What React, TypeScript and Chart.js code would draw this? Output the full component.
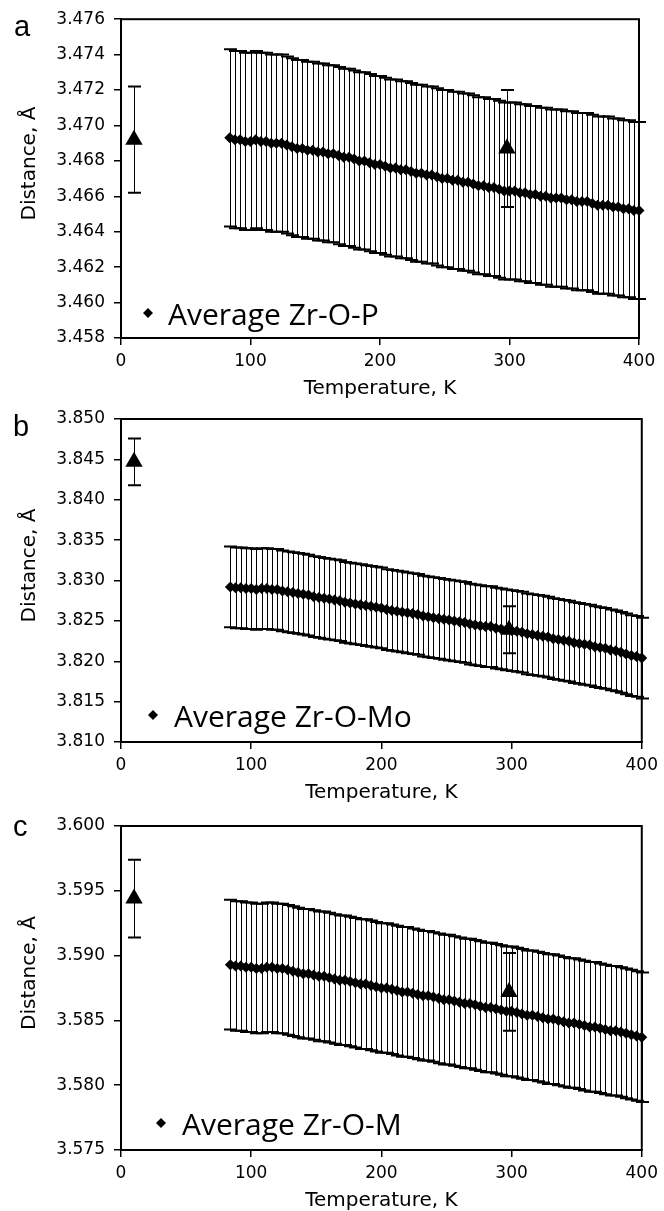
import React, { useEffect, useRef } from 'react';
import { Chart, registerables } from 'chart.js';

Chart.register(...registerables);

// Temperature grid of the simulated averages (K)
const temperatures = [
  84, 88, 92, 96, 100, 104, 108, 112, 116, 120,
  124, 128, 132, 136, 140, 144, 148, 152, 156, 160,
  164, 168, 172, 176, 180, 184, 188, 192, 196, 200,
  204, 208, 212, 216, 220, 224, 228, 232, 236, 240,
  244, 248, 252, 256, 260, 264, 268, 272, 276, 280,
  284, 288, 292, 296, 300, 304, 308, 312, 316, 320,
  324, 328, 332, 336, 340, 344, 348, 352, 356, 360,
  364, 368, 372, 376, 380, 384, 388, 392, 396, 400,
];

// Panel a: Average Zr-O-P (Å)
const avgZrOP = [
  3.4693, 3.4692, 3.4692, 3.4691, 3.4691, 3.4692, 3.4691, 3.4691, 3.4690, 3.4690,
  3.4690, 3.4689, 3.4688, 3.4687, 3.4687, 3.4686, 3.4686, 3.4685, 3.4685, 3.4684,
  3.4684, 3.4683, 3.4682, 3.4682, 3.4681, 3.4680, 3.4680, 3.4679, 3.4678, 3.4678,
  3.4677, 3.4676, 3.4676, 3.4675, 3.4675, 3.4674, 3.4673, 3.4673, 3.4672, 3.4672,
  3.4671, 3.4670, 3.4670, 3.4669, 3.4669, 3.4668, 3.4668, 3.4667, 3.4666, 3.4666,
  3.4665, 3.4665, 3.4664, 3.4663, 3.4663, 3.4663, 3.4662, 3.4662, 3.4661, 3.4661,
  3.4660, 3.4660, 3.4659, 3.4659, 3.4659, 3.4658, 3.4658, 3.4657, 3.4657, 3.4657,
  3.4656, 3.4655, 3.4655, 3.4655, 3.4654, 3.4654, 3.4653, 3.4653, 3.4652, 3.4652,
];
const avgZrOPError = 0.005;

// Panel b: Average Zr-O-Mo (Å)
const avgZrOMo = [
  3.8292, 3.8291, 3.8291, 3.8290, 3.8290, 3.8289, 3.8290, 3.8290, 3.8289, 3.8289,
  3.8287, 3.8286, 3.8285, 3.8284, 3.8283, 3.8282, 3.8280, 3.8279, 3.8278, 3.8277,
  3.8276, 3.8275, 3.8273, 3.8272, 3.8271, 3.8270, 3.8269, 3.8268, 3.8267, 3.8266,
  3.8264, 3.8263, 3.8262, 3.8261, 3.8260, 3.8259, 3.8258, 3.8256, 3.8255, 3.8254,
  3.8253, 3.8252, 3.8251, 3.8250, 3.8249, 3.8248, 3.8246, 3.8245, 3.8244, 3.8243,
  3.8243, 3.8241, 3.8240, 3.8239, 3.8238, 3.8237, 3.8236, 3.8234, 3.8233, 3.8232,
  3.8231, 3.8230, 3.8228, 3.8227, 3.8226, 3.8225, 3.8223, 3.8222, 3.8221, 3.8220,
  3.8218, 3.8217, 3.8216, 3.8214, 3.8213, 3.8211, 3.8209, 3.8207, 3.8206, 3.8204,
];
const avgZrOMoError = 0.005;

// Panel c: Average Zr-O-M (Å)
const avgZrOM = [
  3.5893, 3.5892, 3.5892, 3.5891, 3.5891, 3.5890, 3.5890, 3.5891, 3.5891, 3.5890,
  3.5890, 3.5889, 3.5888, 3.5887, 3.5886, 3.5886, 3.5885, 3.5884, 3.5884, 3.5883,
  3.5882, 3.5881, 3.5881, 3.5880, 3.5879, 3.5878, 3.5878, 3.5877, 3.5876, 3.5875,
  3.5875, 3.5874, 3.5873, 3.5872, 3.5872, 3.5871, 3.5870, 3.5869, 3.5869, 3.5868,
  3.5867, 3.5866, 3.5866, 3.5865, 3.5864, 3.5863, 3.5863, 3.5862, 3.5861, 3.5860,
  3.5860, 3.5859, 3.5858, 3.5857, 3.5857, 3.5856, 3.5855, 3.5854, 3.5854, 3.5853,
  3.5852, 3.5851, 3.5851, 3.5850, 3.5849, 3.5848, 3.5848, 3.5847, 3.5846, 3.5845,
  3.5845, 3.5844, 3.5843, 3.5842, 3.5842, 3.5841, 3.5840, 3.5839, 3.5838, 3.5837,
];
const avgZrOMError = 0.005;

// Experimental points (triangles)
const expTemperatures = [10, 298];
const expZrOP = [3.4692, 3.4687];
const expZrOPError = [0.003, 0.0033];
const expZrOMo = [3.8447, 3.8239];
const expZrOMoError = [0.0029, 0.0029];
const expZrOM = [3.5944, 3.5872];
const expZrOMError = [0.003, 0.003];

// Axes
const xMin = 0;
const xMax = 400;
const xStep = 100;
const yRangeA = [3.458, 3.476, 0.002];
const yRangeB = [3.81, 3.85, 0.005];
const yRangeC = [3.575, 3.6, 0.005];

const xTitle = 'Temperature, K';
const yTitle = 'Distance, Å';

const TICK_FONT = "'DejaVu Sans', Verdana, sans-serif";

type PanelDef = {
  letter: string;
  top: number;
  height: number;
  padTop: number;
  padRight: number;
  yRange: number[];
  avg: number[];
  avgErr: number | number[];
  exp: number[];
  expErr: number[];
  legend: string;
  legendDx: number;
  legendDy: number;
  markDx: number;
  markDy: number;
  letterX: number;
  letterY: number;
};

const panels: PanelDef[] = [
  {
    letter: 'a', top: 0, height: 399, padTop: 19, padRight: 25, yRange: yRangeA,
    avg: avgZrOP, avgErr: avgZrOPError, exp: expZrOP, expErr: expZrOPError,
    legend: 'Average Zr-O-P', legendDx: 47, legendDy: 13, markDx: 27, markDy: 25,
    letterX: 14, letterY: 36,
  },
  {
    letter: 'b', top: 399, height: 404, padTop: 20, padRight: 20, yRange: yRangeB,
    avg: avgZrOMo, avgErr: avgZrOMoError, exp: expZrOMo, expErr: expZrOMoError,
    legend: 'Average Zr-O-Mo', legendDx: 53, legendDy: 15, markDx: 32, markDy: 27,
    letterX: 13, letterY: 37,
  },
  {
    letter: 'c', top: 803, height: 408, padTop: 23, padRight: 20, yRange: yRangeC,
    avg: avgZrOM, avgErr: avgZrOMError, exp: expZrOM, expErr: expZrOMError,
    legend: 'Average Zr-O-M', legendDx: 61, legendDy: 15, markDx: 40, markDy: 27,
    letterX: 13, letterY: 33,
  },
];

function makeDecoPlugin(p: PanelDef) {
  return {
    id: 'deco_' + p.letter,
    beforeDatasetsDraw(chart: any) {
      const ctx = chart.ctx;
      const ys = chart.scales.y;
      ctx.save();
      ctx.strokeStyle = '#000';
      chart.data.datasets.forEach((ds: any, di: number) => {
        const meta = chart.getDatasetMeta(di);
        meta.data.forEach((pt: any, i: number) => {
          const v = ds.data[i].y;
          const e = Array.isArray(ds.errors) ? ds.errors[i] : ds.errors;
          const x = Math.round(pt.x) + 0.5;
          const y1 = ys.getPixelForValue(v + e);
          const y2 = ys.getPixelForValue(v - e);
          ctx.lineWidth = 1;
          ctx.beginPath();
          ctx.moveTo(x, y1);
          ctx.lineTo(x, y2);
          ctx.stroke();
          ctx.lineWidth = 2;
          ctx.beginPath();
          ctx.moveTo(x - 6.5, y1);
          ctx.lineTo(x + 6.5, y1);
          ctx.moveTo(x - 6.5, y2);
          ctx.lineTo(x + 6.5, y2);
          ctx.stroke();
        });
      });
      ctx.restore();
    },
    afterDraw(chart: any) {
      const ctx = chart.ctx;
      const a = chart.chartArea;
      ctx.save();
      // frame
      ctx.strokeStyle = '#000';
      ctx.lineWidth = 2;
      ctx.strokeRect(a.left, a.top, a.right - a.left, a.bottom - a.top);
      // y-axis title (placed slightly above the plot centre, as in the original)
      ctx.fillStyle = '#000';
      ctx.save();
      ctx.translate(35, (a.top + a.bottom) / 2 - 15);
      ctx.rotate(-Math.PI / 2);
      ctx.font = "20px 'DejaVu Sans', Verdana, sans-serif";
      ctx.textAlign = 'center';
      ctx.textBaseline = 'alphabetic';
      ctx.fillText(yTitle, 0, 0);
      ctx.restore();
      // legend
      const mx = a.left + p.markDx;
      const my = a.bottom - p.markDy;
      ctx.beginPath();
      ctx.moveTo(mx - 5, my);
      ctx.lineTo(mx, my - 5);
      ctx.lineTo(mx + 5, my);
      ctx.lineTo(mx, my + 5);
      ctx.closePath();
      ctx.fill();
      ctx.font = "30px 'Open Sans', sans-serif";
      ctx.textAlign = 'left';
      ctx.textBaseline = 'alphabetic';
      ctx.fillText(p.legend, a.left + p.legendDx, a.bottom - p.legendDy);
      // panel letter
      ctx.font = "29px 'Liberation Sans', Arial, sans-serif";
      ctx.fillText(p.letter, p.letterX, p.letterY);
      ctx.restore();
    },
  };
}

function Panel({ p }: { p: PanelDef }) {
  const ref = useRef<HTMLCanvasElement | null>(null);
  useEffect(() => {
    if (!ref.current) return;
    const [yMin, yMax, yStep] = p.yRange;
    const chart = new Chart(ref.current, {
      type: 'scatter',
      data: {
        datasets: [
          {
            label: p.legend,
            data: temperatures.map((t, i) => ({ x: t, y: p.avg[i] })),
            pointStyle: 'rectRot',
            pointRadius: 5.5,
            pointHoverRadius: 5.5,
            backgroundColor: '#000',
            borderColor: '#000',
            borderWidth: 0,
            showLine: false,
            clip: false,
            errors: p.avgErr,
          } as any,
          {
            label: 'Experiment',
            data: expTemperatures.map((t, i) => ({ x: t, y: p.exp[i] })),
            pointStyle: 'triangle',
            pointRadius: 10,
            pointHoverRadius: 10,
            backgroundColor: '#000',
            borderColor: '#000',
            borderWidth: 0,
            showLine: false,
            clip: false,
            errors: p.expErr,
          } as any,
        ],
      },
      options: {
        animation: false,
        responsive: false,
        events: [],
        layout: { padding: { top: p.padTop, right: p.padRight, bottom: 0, left: 0 } },
        plugins: { legend: { display: false }, tooltip: { enabled: false } },
        scales: {
          x: {
            type: 'linear',
            min: xMin,
            max: xMax,
            ticks: {
              stepSize: xStep,
              color: '#000',
              padding: 6,
              maxRotation: 0,
              font: { family: TICK_FONT, size: 17 },
            },
            grid: { drawOnChartArea: false, drawTicks: true, tickLength: 7, color: '#000', lineWidth: 1.5 },
            border: { display: true, color: '#000', width: 2 },
            title: {
              display: true,
              text: xTitle,
              color: '#000',
              font: { family: TICK_FONT, size: 20, lineHeight: 1 },
              padding: { top: 0, bottom: 0.5 },
            },
            afterFit: (s: any) => { s.height = 61; },
          },
          y: {
            type: 'linear',
            min: yMin,
            max: yMax,
            ticks: {
              stepSize: yStep,
              color: '#000',
              padding: 9,
              font: { family: TICK_FONT, size: 17 },
              callback: (v: any) => Number(v).toFixed(3),
            },
            grid: { drawOnChartArea: false, drawTicks: true, tickLength: 7, color: '#000', lineWidth: 1.5 },
            border: { display: true, color: '#000', width: 2 },
            title: { display: false },
            afterFit: (s: any) => { s.width = 121; },
          },
        },
      } as any,
      plugins: [makeDecoPlugin(p)],
    });
    return () => chart.destroy();
  }, [p]);
  return (
    <canvas
      ref={ref}
      width={664}
      height={p.height}
      style={{ position: 'absolute', left: 0, top: p.top, width: 664, height: p.height, display: 'block' }}
    />
  );
}

export default function App() {
  return (
    <div style={{ position: 'absolute', left: 0, top: 0, width: 664, height: 1211, background: '#fff', overflow: 'hidden' }}>
      {panels.map((p) => (
        <Panel key={p.letter} p={p} />
      ))}
    </div>
  );
}
